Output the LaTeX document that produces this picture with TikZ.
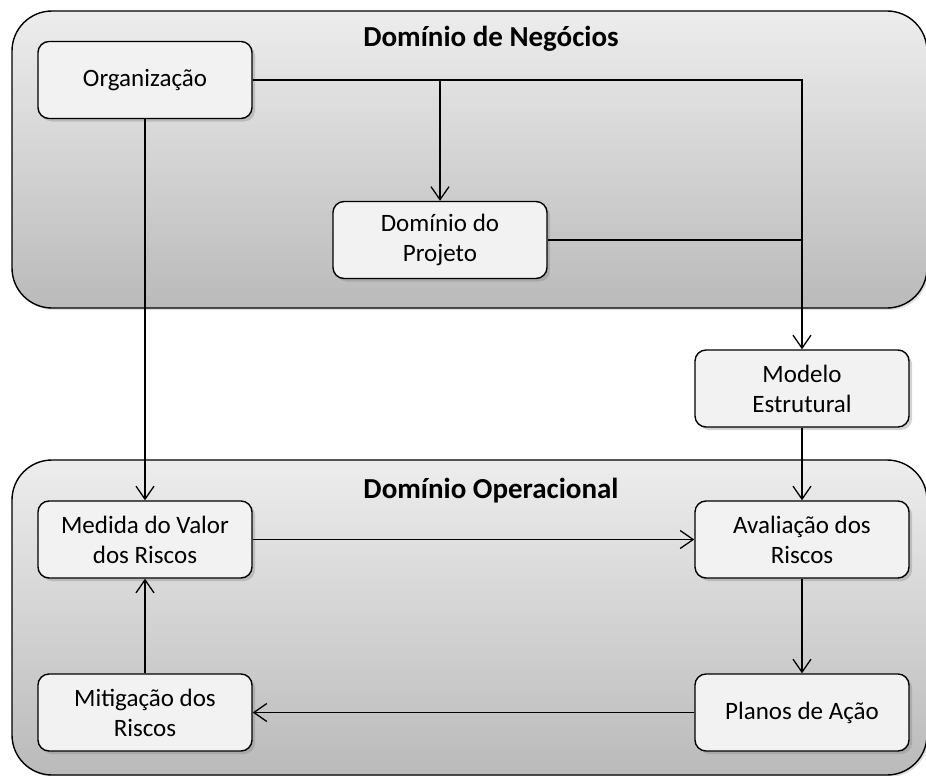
\documentclass[tikz,border=0pt]{standalone}
\usepackage{fontspec}
\setmainfont{Carlito}
\usetikzlibrary{arrows.meta,shadows}
\definecolor{boxfill}{RGB}{242,242,242}
\definecolor{contop}{RGB}{237,237,237}
\definecolor{conbot}{RGB}{186,186,186}
\begin{document}
\begin{tikzpicture}[x=1pt,y=-1pt,
  container/.style={draw=black,line width=1.4pt,rounded corners=40pt,top color=contop,bottom color=conbot,
    drop shadow={shadow xshift=2pt,shadow yshift=-2pt,opacity=0.25}},
  stepbox/.style={draw=black,line width=1.4pt,rounded corners=11pt,fill=boxfill,
    minimum width=214pt,minimum height=77pt,inner sep=0pt,align=center,
    font=\fontsize{25}{30}\selectfont,
    drop shadow={shadow xshift=3pt,shadow yshift=-3pt,opacity=0.35}},
  conn/.style={draw=black,line width=1.3pt},
  arr/.style={conn,-{Straight Barb[length=13pt,width=18pt,line width=1.3pt]}},
  title/.style={font=\fontsize{29}{34}\selectfont\bfseries}]
\useasboundingbox (0,0) rectangle (926,776);
% containers
\path[container] (12,11) rectangle (927,308);
\path[container] (12,460) rectangle (927,775);
\node[title] (t1) at (491,39) {Domínio de Negócios};
\node[title] (t2) at (491,491) {Domínio Operacional};
% nodes
\node[stepbox] (org) at (145,80) {Organização};
\node[stepbox] (proj) at (440,240) {Domínio do\\Projeto};
\node[stepbox] (mod) at (802,388.5) {Modelo\\Estrutural};
\node[stepbox] (med) at (145,539.5) {Medida do Valor\\dos Riscos};
\node[stepbox] (aval) at (802,539.5) {Avaliação dos\\Riscos};
\node[stepbox] (mit) at (145,712.5) {Mitigação dos\\Riscos};
\node[stepbox] (plan) at (802,712.5) {Planos de Ação};
% connectors
\draw[arr] (org.east) -| (mod.north);
\draw[arr] (proj.north |- org.east) -- (proj.north);
\draw[conn] (proj.east) -- (proj.east -| mod.north);
\draw[arr] (org.south) -- (med.north);
\draw[arr] (mod.south) -- (aval.north);
\draw[arr] (med.east) -- (aval.west);
\draw[arr] (aval.south) -- (plan.north);
\draw[arr] (plan.west) -- (mit.east);
\draw[arr] (mit.north) -- (med.south);
\end{tikzpicture}
\end{document}
